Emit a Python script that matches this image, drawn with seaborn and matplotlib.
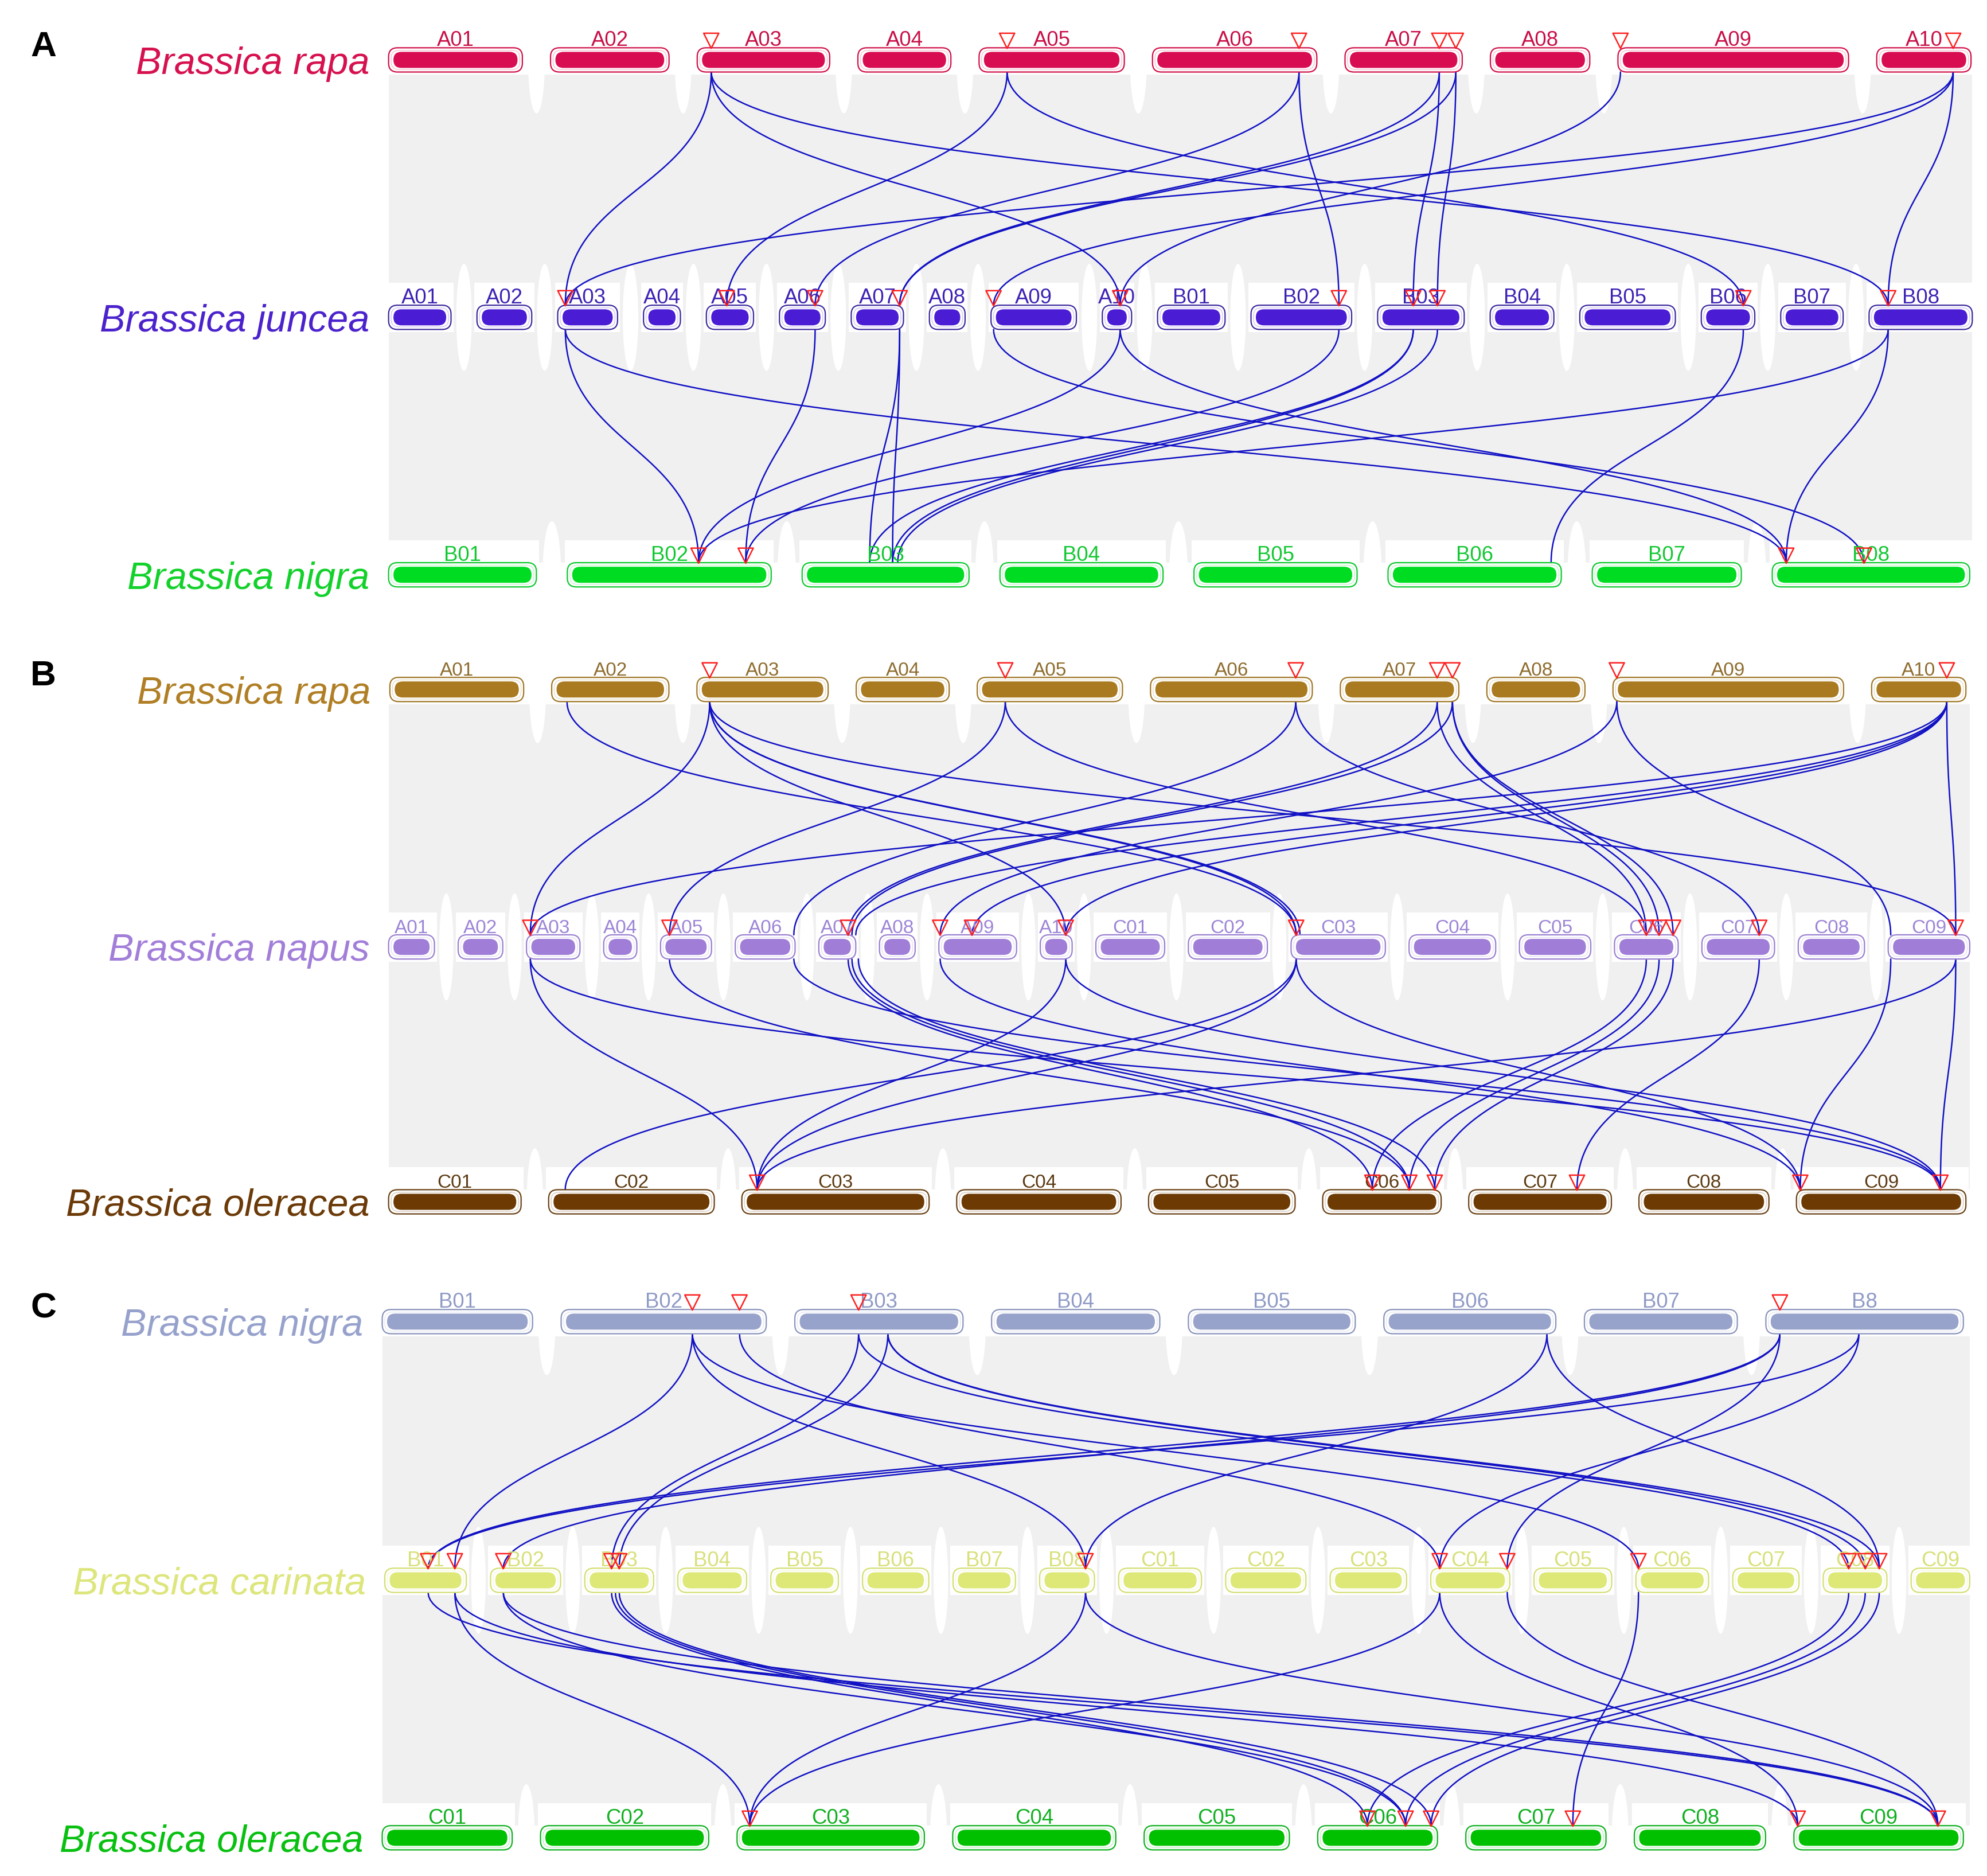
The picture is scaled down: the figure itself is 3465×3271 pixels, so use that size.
import numpy as np
import pandas as pd
import matplotlib
matplotlib.use("Agg")
import matplotlib.pyplot as plt
import seaborn as sns
from matplotlib.patches import FancyBboxPatch, Rectangle, Ellipse
from matplotlib.collections import LineCollection
from matplotlib import font_manager

# ------------------------------------------------------------------ data
# chromosome names and relative lengths
rapa_A_chr = ["A01", "A02", "A03", "A04", "A05", "A06", "A07", "A08", "A09", "A10"]
rapa_A_len = [105, 93, 104, 73, 114, 129, 92, 78, 181, 74]
juncea_chr = ["A01", "A02", "A03", "A04", "A05", "A06", "A07", "A08", "A09", "A10",
              "B01", "B02", "B03", "B04", "B05", "B06", "B07", "B08"]
juncea_len = [49, 43, 47, 29, 37, 36, 41, 28, 67, 23, 53, 79, 68, 50, 75, 42, 49, 81]
nigra_A_chr = ["B01", "B02", "B03", "B04", "B05", "B06", "B07", "B08"]
nigra_A_len = [116, 160, 131, 128, 128, 136, 117, 155]

rapa_B_chr = ["A01", "A02", "A03", "A04", "A05", "A06", "A07", "A08", "A09", "A10"]
rapa_B_len = [105, 92, 103, 73, 114, 127, 93, 77, 181, 74]
napus_chr = ["A01", "A02", "A03", "A04", "A05", "A06", "A07", "A08", "A09", "A10",
             "C01", "C02", "C03", "C04", "C05", "C06", "C07", "C08", "C09"]
napus_len = [36, 35, 42, 26, 40, 47, 29, 28, 61, 25, 54, 62, 74, 68, 56, 50, 57, 52, 64]
oleracea_B_chr = ["C01", "C02", "C03", "C04", "C05", "C06", "C07", "C08", "C09"]
oleracea_B_len = [104, 130, 147, 129, 115, 93, 112, 102, 133]

nigra_C_chr = ["B01", "B02", "B03", "B04", "B05", "B06", "B07", "B8"]
nigra_C_len = [118, 161, 132, 132, 131, 135, 120, 155]
carinata_chr = ["B01", "B02", "B03", "B04", "B05", "B06", "B07", "B08",
                "C01", "C02", "C03", "C04", "C05", "C06", "C07", "C08", "C09"]
carinata_len = [64, 55, 54, 54, 53, 52, 49, 43, 65, 63, 60, 62, 61, 57, 52, 50, 46]
oleracea_C_chr = ["C01", "C02", "C03", "C04", "C05", "C06", "C07", "C08", "C09"]
oleracea_C_len = [102, 132, 147, 128, 114, 94, 110, 103, 133]

# gene marks (chromosome, position along chromosome)
rapa_A_marks = [("A03", 11), ("A05", 22), ("A06", 115), ("A07", 74), ("A07", 87), ("A09", 2), ("A10", 60)]
juncea_marks = [("A03", 6), ("A05", 16), ("A06", 28), ("A07", 38), ("A09", 2), ("A10", 14),
                ("B02", 69), ("B03", 28), ("B03", 47), ("B06", 33), ("B08", 15)]
nigra_A_marks = [("B02", 103), ("B02", 140), ("B08", 11), ("B08", 72)]
rapa_B_marks = [("A03", 10), ("A05", 22), ("A06", 114), ("A07", 76), ("A07", 88), ("A09", 3), ("A10", 59)]
napus_marks = [("A03", 3), ("A05", 7), ("A07", 23), ("A09", 1), ("A09", 26), ("A10", 20), ("C03", 4),
               ("C06", 25), ("C06", 35), ("C06", 46), ("C07", 45), ("C09", 53)]
oleracea_B_marks = [("C03", 12), ("C06", 39), ("C06", 68), ("C06", 88), ("C07", 85), ("C09", 3), ("C09", 113)]
nigra_C_marks = [("B02", 103), ("B02", 140), ("B03", 50), ("B8", 11)]
carinata_marks = [("B01", 34), ("B01", 55), ("B02", 10), ("B03", 21), ("B03", 27), ("B08", 36),
                  ("C04", 7), ("C04", 60), ("C06", 2), ("C08", 20), ("C08", 33), ("C08", 44)]
oleracea_C_marks = [("C03", 10), ("C06", 39), ("C06", 69), ("C06", 89), ("C07", 84), ("C09", 3), ("C09", 113)]

# syntenic gene pairs (upper chr, upper pos, lower chr, lower pos)
links_rapa_juncea = [
    ("A03", 11, "A03", 6), ("A03", 11, "A10", 14), ("A03", 11, "B08", 15),
    ("A05", 22, "A05", 16), ("A05", 22, "B06", 33),
    ("A06", 115, "A06", 28), ("A06", 115, "B02", 69),
    ("A07", 74, "A07", 38), ("A07", 87, "A07", 38), ("A07", 74, "B03", 28), ("A07", 87, "B03", 47),
    ("A09", 2, "A10", 14),
    ("A10", 60, "A03", 6), ("A10", 60, "A09", 2), ("A10", 60, "B08", 15),
]
links_juncea_nigra = [
    ("A03", 6, "B02", 103), ("A03", 6, "B08", 11),
    ("A06", 28, "B02", 140),
    ("A07", 38, "B03", 53), ("A07", 38, "B03", 71),
    ("A09", 2, "B08", 72),
    ("A10", 14, "B02", 103), ("A10", 14, "B08", 11),
    ("B02", 69, "B02", 140),
    ("B03", 28, "B03", 53), ("B03", 28, "B03", 71), ("B03", 47, "B03", 75),
    ("B06", 33, "B06", 128),
    ("B08", 15, "B08", 11), ("B08", 15, "B02", 103),
]
links_rapa_napus = [
    ("A02", 12, "C03", 4),
    ("A03", 10, "A03", 3), ("A03", 10, "A10", 20), ("A03", 10, "C03", 4), ("A03", 10, "C03", 7),
    ("A03", 10, "C09", 53),
    ("A05", 22, "A05", 7), ("A05", 22, "C06", 25),
    ("A06", 114, "A06", 46), ("A06", 114, "C07", 45),
    ("A07", 76, "A07", 23), ("A07", 88, "A07", 26), ("A07", 76, "C06", 25), ("A07", 88, "C06", 35),
    ("A07", 88, "C06", 46),
    ("A09", 3, "A09", 1), ("A09", 3, "C09", 2),
    ("A10", 59, "A03", 3), ("A10", 59, "A07", 29), ("A10", 59, "A09", 26), ("A10", 59, "A10", 20),
    ("A10", 59, "C09", 53),
]
links_napus_oleracea = [
    ("A03", 3, "C03", 12), ("A03", 3, "C09", 113),
    ("A05", 7, "C06", 68),
    ("A06", 46, "C09", 113),
    ("A07", 23, "C06", 39), ("A07", 26, "C06", 68), ("A07", 31, "C06", 88),
    ("A09", 1, "C09", 3),
    ("A10", 20, "C03", 12), ("A10", 20, "C09", 113),
    ("C03", 4, "C03", 12), ("C03", 4, "C02", 13), ("C03", 4, "C09", 3),
    ("C06", 25, "C06", 39), ("C06", 35, "C06", 68), ("C06", 46, "C06", 88),
    ("C07", 45, "C07", 85),
    ("C09", 2, "C09", 3), ("C09", 53, "C03", 12), ("C09", 53, "C09", 113),
]
links_nigra_carinata = [
    ("B02", 103, "B01", 55), ("B02", 103, "B08", 36), ("B02", 103, "C06", 2),
    ("B02", 140, "C04", 7),
    ("B03", 50, "B03", 21), ("B03", 73, "B03", 27),
    ("B03", 50, "C08", 20), ("B03", 73, "C08", 33), ("B03", 73, "C08", 44),
    ("B06", 128, "B08", 36), ("B06", 128, "C08", 44),
    ("B8", 11, "B01", 34), ("B8", 11, "B02", 10), ("B8", 11, "C04", 60),
    ("B8", 73, "B01", 34), ("B8", 73, "C04", 7),
]
links_carinata_oleracea = [
    ("B01", 34, "C09", 113), ("B01", 55, "C03", 10), ("B01", 55, "C09", 3),
    ("B02", 10, "C06", 69), ("B02", 10, "C09", 113),
    ("B03", 21, "C06", 39), ("B03", 24, "C06", 69), ("B03", 27, "C06", 89),
    ("B08", 36, "C03", 10), ("B08", 36, "C09", 113),
    ("C04", 7, "C03", 10), ("C04", 7, "C09", 3), ("C04", 60, "C09", 113),
    ("C06", 2, "C07", 84),
    ("C08", 20, "C06", 39), ("C08", 33, "C06", 69), ("C08", 44, "C06", 89),
]

# ------------------------------------------------------------------ style
sns.set_theme(style="white")
_names = {f.name for f in font_manager.fontManager.ttflist}
BASE = "Liberation Sans" if "Liberation Sans" in _names else "DejaVu Sans"
NARROW = "Liberation Sans Narrow" if "Liberation Sans Narrow" in _names else BASE
plt.rcParams["font.family"] = [BASE, "DejaVu Sans"]

W, H = 1560.0, 1472.0
fig = plt.figure(figsize=(34.66, 32.71), dpi=100)
ax = fig.add_axes([0, 0, 1, 1])

rows = {
    "rapaA": dict(sp="Brassica rapa", chr=rapa_A_chr, len=rapa_A_len, marks=rapa_A_marks, y=47,
                  x0=305, x1=1547, bar="#d80c50", edge="#d01048", lab="#c81048", spc="#d6114f", narrow=True),
    "juncea": dict(sp="Brassica juncea", chr=juncea_chr, len=juncea_len, marks=juncea_marks, y=249,
                   x0=305, x1=1548, bar="#4a1dd4", edge="#3c2a9c", lab="#3e22b4", spc="#4b22cc", narrow=True),
    "nigraA": dict(sp="Brassica nigra", chr=nigra_A_chr, len=nigra_A_len, marks=nigra_A_marks, y=451,
                   x0=305, x1=1546, bar="#00dc22", edge="#10c830", lab="#12c832", spc="#12d12a", narrow=True),
    "rapaB": dict(sp="Brassica rapa", chr=rapa_B_chr, len=rapa_B_len, marks=rapa_B_marks, y=541,
                  x0=306, x1=1543, bar="#a97a1f", edge="#a07828", lab="#8e6c2e", spc="#b07f25", narrow=False),
    "napus": dict(sp="Brassica napus", chr=napus_chr, len=napus_len, marks=napus_marks, y=743,
                  x0=305, x1=1546, bar="#a07ed8", edge="#9a80d0", lab="#9d85d6", spc="#a27ed9", narrow=False),
    "olerB": dict(sp="Brassica oleracea", chr=oleracea_B_chr, len=oleracea_B_len, marks=oleracea_B_marks, y=943,
                  x0=305, x1=1543, bar="#6c3a02", edge="#6a4216", lab="#5c3a12", spc="#6b3a08", narrow=False),
    "nigraC": dict(sp="Brassica nigra", chr=nigra_C_chr, len=nigra_C_len, marks=nigra_C_marks, y=1037,
                   x0=300, x1=1541, bar="#98a3cb", edge="#8a94bc", lab="#8f9ac6", spc="#97a2cc", narrow=True),
    "carinata": dict(sp="Brassica carinata", chr=carinata_chr, len=carinata_len, marks=carinata_marks, y=1240,
                     x0=302, x1=1546, bar="#dde877", edge="#d4de70", lab="#d8e07a", spc="#dde67c", narrow=True),
    "olerC": dict(sp="Brassica oleracea", chr=oleracea_C_chr, len=oleracea_C_len, marks=oleracea_C_marks, y=1442,
                  x0=300, x1=1541, bar="#00c000", edge="#10b020", lab="#10b020", spc="#08c010", narrow=True),
}

panels = [
    ("A", "rapaA", "juncea", "nigraA", links_rapa_juncea, links_juncea_nigra),
    ("B", "rapaB", "napus", "olerB", links_rapa_napus, links_napus_oleracea),
    ("C", "nigraC", "carinata", "olerC", links_nigra_carinata, links_carinata_oleracea),
]

# layout of each row (positions derived from lengths)
for key, r in rows.items():
    n = len(r["len"])
    gap = (r["x1"] - r["x0"] - sum(r["len"])) / (n - 1)
    starts, x = [], r["x0"]
    for L in r["len"]:
        starts.append(x)
        x += L + gap
    r["starts"] = dict(zip(r["chr"], starts))
    r["lens"] = dict(zip(r["chr"], r["len"]))
    r["gap"] = gap

def xpos(r, c, p):
    return r["starts"][c] + p

HB = 9.5   # half height of chromosome box
GREY = "#f0f0f0"
PT = (3466.0 / W) * 72.0 / 100.0   # points per layout unit

# ---------------------------------------------------------------- background
for letter, kt, km, kb, l1, l2 in panels:
    rt, rm, rb = rows[kt], rows[km], rows[kb]
    xa = min(rt["x0"], rm["x0"], rb["x0"])
    xb = max(rt["x1"], rm["x1"], rb["x1"])
    ax.add_patch(Rectangle((xa, rt["y"] + HB + 2), xb - xa, (rb["y"] - HB) - (rt["y"] + HB + 2),
                           facecolor=GREY, edgecolor="none", zorder=0))
    for k in (kt, km, kb):
        r = rows[k]
        names = r["chr"]
        for i in range(len(names) - 1):
            e1 = r["starts"][names[i]] + r["lens"][names[i]]
            s2 = r["starts"][names[i + 1]]
            ax.add_patch(Ellipse(((e1 + s2) / 2, r["y"]), r["gap"] * 0.6, 84,
                                 facecolor="white", edgecolor="none", zorder=0.5))
        for c in names:
            ax.add_patch(Rectangle((r["starts"][c] - 2, r["y"] - 27), r["lens"][c] + 4, 27 + HB + 2,
                                   facecolor="white", edgecolor="none", zorder=0.6))

# ---------------------------------------------------------------- links
def bezier(x1, y1, x2, y2, n=90):
    t = np.linspace(0, 1, n)[:, None]
    dy = y2 - y1
    p0 = np.array([x1, y1]); p1 = np.array([x1, y1 + 0.5 * dy])
    p2 = np.array([x2, y2 - 0.5 * dy]); p3 = np.array([x2, y2])
    return ((1 - t) ** 3) * p0 + 3 * ((1 - t) ** 2) * t * p1 + 3 * (1 - t) * t ** 2 * p2 + t ** 3 * p3

segs = []
for letter, kt, km, kb, l1, l2 in panels:
    for (ra, rb_, lk) in ((rows[kt], rows[km], l1), (rows[km], rows[kb], l2)):
        for c1, p1, c2, p2 in lk:
            segs.append(bezier(xpos(ra, c1, p1), ra["y"] + HB, xpos(rb_, c2, p2), rb_["y"] - HB))
ax.add_collection(LineCollection(segs, colors="#1010c4", linewidths=1.8, zorder=2, capstyle="round"))

# ---------------------------------------------------------------- chromosomes
for key, r in rows.items():
    y = r["y"]
    fam = [NARROW, BASE, "DejaVu Sans"] if r["narrow"] else [BASE, "DejaVu Sans"]
    for c in r["chr"]:
        s, L = r["starts"][c], r["lens"][c]
        ax.add_patch(FancyBboxPatch((s, y - HB), L, 2 * HB, boxstyle="round,pad=0,rounding_size=7",
                                    facecolor="white", edgecolor=r["edge"], linewidth=1.6, zorder=3))
        ax.add_patch(FancyBboxPatch((s + 2.0, y - HB + 2.0), L - 4.0, 2 * HB - 4.0,
                                    boxstyle="round,pad=0,rounding_size=6",
                                    facecolor="none", edgecolor=r["bar"], linewidth=1.0, alpha=0.25, zorder=3.1))
        ax.add_patch(FancyBboxPatch((s + 3.8, y - 6.3), L - 7.6, 12.6, boxstyle="round,pad=0,rounding_size=6.3",
                                    facecolor=r["bar"], edgecolor="none", zorder=3.2))
        ax.text(s + L / 2, y - 11.0, c, ha="center", va="baseline", color=r["lab"],
                fontsize=(16.5 if r["narrow"] else 15.0) * PT, family=fam, zorder=3.5)
    ax.text(r["x0"] - 15, y + 11, r["sp"], ha="right", va="baseline", color=r["spc"],
            fontsize=30 * PT, style="italic", family=[BASE, "DejaVu Sans"], zorder=3.5)

for letter, kt, km, kb, l1, l2 in panels:
    ax.text(24, rows[kt]["y"] - 10, letter, ha="left", va="center", color="black",
            fontsize=28 * PT, fontweight="bold", family=[BASE, "DejaVu Sans"], zorder=4)

# ---------------------------------------------------------------- triangles (seaborn)
mk = []
for key, r in rows.items():
    for c, p in r["marks"]:
        mk.append({"x": xpos(r, c, p), "y": r["y"] - 15.0})
mk = pd.DataFrame(mk)
sns.scatterplot(data=mk, x="x", y="y", marker="v", s=360, facecolor="none",
                edgecolor="#ff1e1e", linewidth=1.8, zorder=5, ax=ax, legend=False)

ax.set_xlim(0, W)
ax.set_ylim(H, 0)
ax.set_axis_off()
fig.savefig("out.png", dpi=100, facecolor="white")
